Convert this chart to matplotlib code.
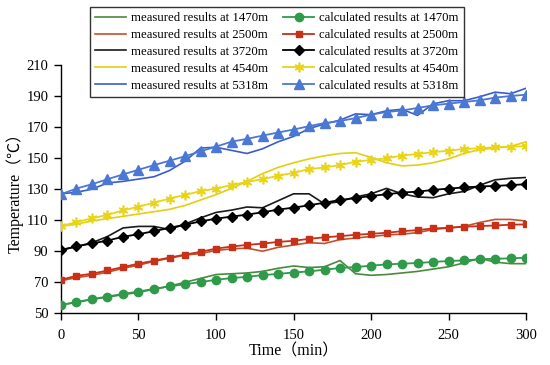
import matplotlib
matplotlib.use("Agg")
import matplotlib.pyplot as plt

plt.rcParams['font.family'] = ['Liberation Serif', 'Noto Sans CJK SC']
plt.rcParams['mathtext.fontset'] = 'stix'

time = list(range(0, 301, 10))

depths = ["1470m", "2500m", "3720m", "4540m", "5318m"]

meas_1470 = [55.5, 57, 59, 60.5, 62, 63.5, 65.5, 67.5, 70, 72.5, 75, 75.5, 76, 77, 79, 80.5,
             79.5, 80, 84, 75.5, 74.5, 75, 76, 77, 78.5, 80, 82.5, 85.5, 83, 82, 82]
calc_1470 = [55.4, 57.3, 59.1, 60.8, 62.5, 64, 65.8, 67.3, 68.8, 70.1, 71.6, 72.7, 73.5, 74.6, 75.4, 76.3,
             77, 78.1, 79.2, 79.8, 80.7, 81.5, 82, 82.4, 83.1, 83.7, 84.1, 84.8, 85.2, 85.4, 85.9]

meas_2500 = [71, 73, 74.5, 76.5, 79, 81, 83.5, 85.5, 87.5, 88.5, 90.5, 91.5, 92, 90, 92.5, 94,
             95.5, 95, 97.5, 98.5, 99.5, 100.5, 101, 102, 104, 105, 106, 108.5, 110.5, 110.5, 109.5]
calc_2500 = [71.6, 74.2, 75.5, 77.6, 79.8, 82, 83.9, 85.9, 87.8, 89.6, 91.7, 93, 94.1, 94.9, 96, 96.7,
             98, 99, 99.7, 100.6, 101.2, 101.9, 102.9, 103.6, 104.7, 105.1, 105.8, 106.2, 106.6, 107.1, 107.3]

meas_3720 = [91, 93, 95.5, 99.5, 105, 106, 106, 104, 107.5, 111.5, 115, 116.5, 118.5, 118, 122.5, 127,
             127, 120.5, 122, 125, 127, 130.5, 127, 125, 124.5, 127, 128.5, 132.5, 136, 137, 137.5]
calc_3720 = [90.6, 93.2, 95, 96.9, 99.3, 101, 102.9, 105.1, 107.1, 109.2, 111, 112.3, 113.6, 115.1, 116.8, 118.1,
             119.6, 121.3, 123, 124.3, 125.6, 126.7, 127.8, 128.4, 129.5, 130.4, 131.1, 131.7, 132.1, 132.6, 133.2]

meas_4540 = [106, 107.5, 109.5, 111, 112.5, 114, 115.5, 117, 119.5, 123, 126.5, 130.5, 135, 140, 144, 147,
             149.5, 151.5, 153, 153.5, 150.5, 147, 145, 145.5, 147, 149.5, 153, 155.5, 156.5, 157.5, 160.5]
calc_4540 = [106.2, 108.8, 111.2, 113.5, 116.3, 118.7, 121.3, 123.9, 126.3, 128.7, 130.4, 132.6, 134.7, 136.4, 138.6, 140.6,
             142.9, 144, 145.5, 147.7, 148.8, 149.9, 151.6, 152.7, 153.8, 154.8, 155.9, 156.3, 157, 157.4, 157.7]

meas_5318 = [127, 128, 130, 134, 135, 136.5, 138, 142, 148, 156.5, 157, 155, 153, 156, 160.5, 164,
             169, 172, 174.5, 178.5, 178, 180.5, 181.5, 177.5, 185, 187, 187, 189.5, 192.5, 191.5, 195]
calc_5318 = [126.7, 130.4, 133.2, 136.4, 139.5, 142.5, 145.5, 148.3, 151.2, 154.4, 157.4, 160.6, 162.4, 164.5, 166.5, 168.4,
             170.6, 172.6, 173.9, 175.8, 178, 179.7, 180.7, 182.3, 184, 185.1, 186.2, 187.2, 189, 190, 190.9]

measured = [meas_1470, meas_2500, meas_3720, meas_4540, meas_5318]
calculated = [calc_1470, calc_2500, calc_3720, calc_4540, calc_5318]

meas_colors = ['#4a8a3c', '#c4502a', '#1a1a1a', '#e2cf10', '#3a5ccc']
calc_colors = ['#2e9a4a', '#c83018', '#000000', '#e8d418', '#4a78d4']
markers = ['o', 's', 'D', (6, 2, 0), '^']
msizes = [6, 5, 5, 7, 6.5]

fig = plt.figure(figsize=(5.5, 3.65), dpi=100)
ax = fig.add_axes([0.1109, 0.1416, 0.8455, 0.6803])

handles = []
for i in range(5):
    h, = ax.plot(time, measured[i], color=meas_colors[i], lw=1.2, zorder=2,
                 label=f"measured results at {depths[i]}")
    handles.append(h)
for i in range(5):
    mk = markers[i]
    kw = dict(markerfacecolor=calc_colors[i], markeredgecolor=calc_colors[i])
    if mk == (6, 2, 0):
        kw['markeredgewidth'] = 1.2
    h, = ax.plot(time, calculated[i], color=calc_colors[i], lw=1.3, marker=mk,
                 markersize=msizes[i], zorder=3,
                 label=f"calculated results at {depths[i]}", **kw)
    handles.append(h)

ax.set_xlim(0, 300)
ax.set_ylim(50, 210)
ax.set_xticks(range(0, 301, 50))
ax.set_yticks(range(50, 211, 20))
for s in ['top', 'right']:
    ax.spines[s].set_visible(False)
for s in ['left', 'bottom']:
    ax.spines[s].set_linewidth(1.0)
ax.tick_params(direction='out', length=5, width=1.0, labelsize=10.5, pad=4)
ax.tick_params(axis='x', pad=6)

ax.set_xlabel("Time（min）", fontsize=11.5, labelpad=1)
ax.set_ylabel("Temperature（℃）", fontsize=11.5, labelpad=2)

leg = fig.legend(handles=handles, ncol=2, loc='upper left',
                 bbox_to_anchor=(0.1636, 0.9808), frameon=True, fancybox=False,
                 edgecolor='black', fontsize=9.2, handlelength=2.4,
                 handletextpad=0.4, columnspacing=1.2, labelspacing=0.38,
                 borderpad=0.4, borderaxespad=0)
leg.get_frame().set_linewidth(1.0)

fig.savefig("out.png", dpi=100)
